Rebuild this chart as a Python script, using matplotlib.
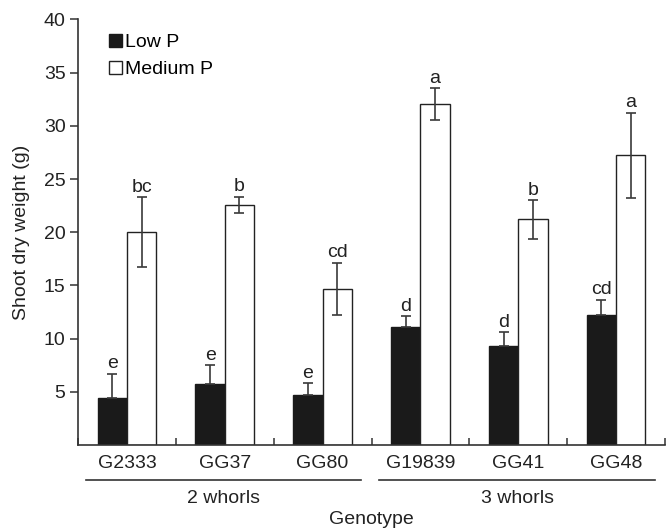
import matplotlib
matplotlib.use("Agg")
import matplotlib.pyplot as plt
import numpy as np
from matplotlib.patches import Patch

plt.rcParams['font.family'] = ['Liberation Sans', 'DejaVu Sans']

genotypes = ["G2333", "GG37", "GG80", "G19839", "GG41", "GG48"]
low_p = [4.4, 5.7, 4.7, 11.1, 9.3, 12.2]
low_err = [2.3, 1.8, 1.1, 1.0, 1.3, 1.45]
med_p = [20.0, 22.6, 14.7, 32.05, 21.2, 27.25]
med_err = [3.3, 0.75, 2.45, 1.5, 1.8, 4.0]
low_letters = ["e", "e", "e", "d", "d", "cd"]
med_letters = ["bc", "b", "cd", "a", "b", "a"]
groups = ["2 whorls", "3 whorls"]
group_spans = [(-0.42, 2.39), (2.58, 5.40)]
yticks = [5, 10, 15, 20, 25, 30, 35, 40]

fig = plt.figure(figsize=(6.67, 5.30), dpi=100)
ax = fig.add_axes([78/667, 1 - 445/530, (665-78)/667, (445-19.5)/530])

x = np.arange(len(genotypes))
w = 0.30
fs = 14
ecol = '#3a3a3a'
ax.bar(x - w/2, low_p, w, color='#1a1a1a', edgecolor='#1a1a1a', linewidth=1.0, zorder=2)
ax.bar(x + w/2, med_p, w, color='white', edgecolor='#222222', linewidth=1.0, zorder=2)
ax.errorbar(x - w/2, low_p, yerr=[np.zeros(len(low_err)), low_err], fmt='none',
            ecolor=ecol, elinewidth=1.2, capsize=3.5, capthick=1.2, zorder=3)
ax.errorbar(x + w/2, med_p, yerr=med_err, fmt='none',
            ecolor=ecol, elinewidth=1.2, capsize=3.5, capthick=1.2, zorder=3)

for i in range(len(genotypes)):
    ax.annotate(low_letters[i], (x[i] - w/2, low_p[i] + low_err[i]), xytext=(0, 1.0),
                textcoords='offset points', ha='center', va='bottom', fontsize=fs, color='#222222')
    ax.annotate(med_letters[i], (x[i] + w/2, med_p[i] + med_err[i]), xytext=(0, 1.0),
                textcoords='offset points', ha='center', va='bottom', fontsize=fs, color='#222222')

ax.set_xlim(-0.5, len(genotypes) - 0.5)
ax.set_ylim(0, 40)
ax.set_yticks(yticks)
ax.set_yticklabels([str(t) for t in yticks], fontsize=fs, color='#222222')
ax.tick_params(axis='y', direction='out', length=6, width=1.1, color='#333333', pad=3)
ax.set_xticks(x)
ax.set_xticklabels(genotypes, fontsize=fs, color='#222222')
ax.tick_params(axis='x', which='major', length=0, pad=7)
ax.set_xticks(np.arange(-0.5, len(genotypes) + 0.5, 1.0), minor=True)
ax.tick_params(axis='x', which='minor', direction='in', length=5, width=1.1, color='#333333')

for s in ['top', 'right']:
    ax.spines[s].set_visible(False)
for s in ['left', 'bottom']:
    ax.spines[s].set_linewidth(1.2)
    ax.spines[s].set_color('#333333')

ax.set_ylabel("Shoot dry weight (g)", fontsize=fs, color='#222222', labelpad=10)

trans = ax.get_xaxis_transform()
for (a, b), g in zip(group_spans, groups):
    ax.plot([a, b], [-0.082, -0.082], transform=trans, color='#333333', lw=1.2, clip_on=False)
    ax.text((a + b) / 2, -0.106, g, transform=trans, ha='center', va='top', fontsize=fs, color='#222222')
ax.text(0.5, -0.155, "Genotype", transform=ax.transAxes, ha='center', va='top', fontsize=fs, color='#222222')

handles = [Patch(facecolor='#1a1a1a', edgecolor='#1a1a1a', label='Low P'),
           Patch(facecolor='white', edgecolor='#222222', label='Medium P')]
ax.legend(handles=handles, loc='upper left', bbox_to_anchor=(0.04, 0.985), frameon=False,
          fontsize=fs, handlelength=0.65, handleheight=0.65, handletextpad=0.15, labelspacing=0.5,
          borderaxespad=0)

fig.savefig("out.png", dpi=100)
